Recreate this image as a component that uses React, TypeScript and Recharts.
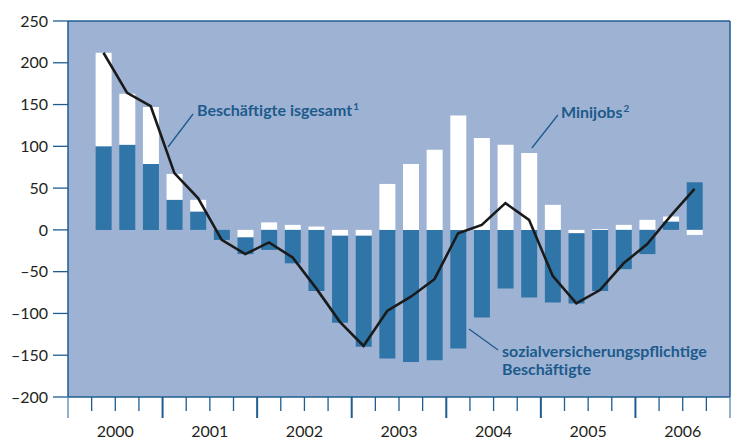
import React from 'react';
import {
  ComposedChart,
  Bar,
  Line,
  XAxis,
  YAxis,
  CartesianGrid,
  ReferenceLine,
  ReferenceDot,
} from 'recharts';

// Quarter labels (bars run from 2000 Q2 to 2006 Q3)
const quarters = [
  '2000Q2', '2000Q3', '2000Q4',
  '2001Q1', '2001Q2', '2001Q3', '2001Q4',
  '2002Q1', '2002Q2', '2002Q3', '2002Q4',
  '2003Q1', '2003Q2', '2003Q3', '2003Q4',
  '2004Q1', '2004Q2', '2004Q3', '2004Q4',
  '2005Q1', '2005Q2', '2005Q3', '2005Q4',
  '2006Q1', '2006Q2', '2006Q3',
];

// sozialversicherungspflichtige Beschäftigte (thousands)
const svBeschaeftigte = [
  100, 102, 79,
  36, 22, -12, -20,
  -24, -40, -73, -104,
  -133, -154, -158, -156,
  -142, -105, -70, -81,
  -87, -84, -73, -47,
  -29, 10, 57,
];

// Minijobs
const minijobs = [
  112, 61, 68,
  31, 14, 0, -9,
  9, 6, 4, -7,
  -7, 55, 79, 96,
  137, 110, 102, 92,
  30, -4, 1, 6,
  12, 6, -6,
];

// Beschäftigte insgesamt
const insgesamt = [
  212, 164, 148,
  68, 38, -12, -29,
  -15, -33, -70, -110,
  -139, -97, -80, -59,
  -4, 6, 32, 12,
  -55, -88, -72, -40,
  -17, 17, 49,
];

const yearLabels = ['2000', '2001', '2002', '2003', '2004', '2005', '2006'];
const yTicks = [-200, -150, -100, -50, 0, 50, 100, 150, 200, 250];

const firstYear = Number(yearLabels[0]);
const slotCount = yearLabels.length * 4;
const xTicks = Array.from({ length: slotCount + 1 }, (_, i) => i);

const data = quarters.map((q, i) => {
  const year = Number(q.slice(0, 4));
  const qu = Number(q.slice(5));
  const sv = svBeschaeftigte[i];
  return {
    q,
    x: (year - firstYear) * 4 + (qu - 1) + 0.5,
    svPos: sv >= 0 ? sv : 0,
    mini: minijobs[i],
    svNeg: sv < 0 ? sv : 0,
    total: insgesamt[i],
  };
});

const BG = '#9eb3d3';
const BLUE = '#3075a8';
const AXIS = '#1f5d91';
const TEXT_BLUE = '#1d5a8c';
const FONT = 'Lato, "Open Sans", sans-serif';

const XTick = (props: any) => {
  const { x, y, payload } = props;
  const v = payload.value as number;
  const isYear = v % 4 === 0;
  const edge = v === 0 || v === slotCount;
  const label = v % 4 === 2 ? yearLabels[(v - 2) / 4] : null;
  return (
    <g>
      <line
        x1={x}
        x2={x}
        y1={y}
        y2={y + (isYear ? 21 : 14)}
        stroke={edge ? '#5a87b3' : AXIS}
        strokeWidth={isYear && !edge ? 2 : 1.3}
      />
      {label && (
        <text
          x={x}
          y={y + 40}
          textAnchor="middle"
          fill="#231f20"
          fontSize={16}
          fontFamily={FONT}
        >
          {label}
        </text>
      )}
    </g>
  );
};

const fmtY = (v: number) => (v < 0 ? `\u2013${Math.abs(v)}` : `${v}`);

const makeLabel = (lines: string[], sup?: string) => (props: any) => {
  const vb = props.viewBox || {};
  const x = vb.x ?? 0;
  const y = vb.y ?? 0;
  return (
    <text
      x={x}
      y={y}
      fill={TEXT_BLUE}
      fontSize={16}
      fontWeight={700}
      fontFamily={FONT}
    >
      {lines.map((l, i) => (
        <tspan key={i} x={x} dy={i === 0 ? 0 : 18}>
          {l}
        </tspan>
      ))}
      {sup && (
        <tspan fontSize={10} dy={-6} dx={1}>
          {sup}
        </tspan>
      )}
    </text>
  );
};

export default function App() {
  return (
    <div style={{ position: 'absolute', left: 0, top: 0 }}>
      <ComposedChart
        width={741}
        height={440}
        data={data}
        margin={{ top: 21, right: 0, bottom: 0, left: 0 }}
        stackOffset="sign"
        style={{ fontFamily: FONT }}
      >
        <CartesianGrid horizontal={false} vertical={false} fill={BG} fillOpacity={1} />
        <XAxis
          type="number"
          dataKey="x"
          domain={[0, slotCount]}
          ticks={xTicks}
          interval={0}
          allowDataOverflow
          tickLine={false}
          tickSize={0}
          tickMargin={0}
          height={43}
          axisLine={{ stroke: AXIS, strokeWidth: 1.5 }}
          tick={<XTick />}
        />
        <YAxis
          domain={[-200, 250]}
          ticks={yTicks}
          interval={0}
          allowDataOverflow
          width={68}
          tickSize={15}
          tickMargin={5}
          tickFormatter={fmtY}
          axisLine={{ stroke: AXIS, strokeWidth: 1.5 }}
          tickLine={{ stroke: AXIS, strokeWidth: 1.3 }}
          tick={{ fill: '#231f20', fontSize: 16, fontFamily: FONT }}
        />
        <YAxis
          yAxisId="r"
          orientation="right"
          domain={[-200, 250]}
          ticks={yTicks}
          interval={0}
          allowDataOverflow
          width={11}
          tickSize={11}
          tick={false}
          axisLine={{ stroke: AXIS, strokeWidth: 1.5 }}
          tickLine={{ stroke: AXIS, strokeWidth: 1.3 }}
        />
        <ReferenceLine y={250} stroke={AXIS} strokeWidth={1.5} />
        <Bar dataKey="svPos" stackId="a" fill={BLUE} barSize={16} isAnimationActive={false} />
        <Bar dataKey="mini" stackId="a" fill="#ffffff" barSize={16} isAnimationActive={false} />
        <Bar dataKey="svNeg" stackId="a" fill={BLUE} barSize={16} isAnimationActive={false} />
        <Line
          dataKey="total"
          type="linear"
          stroke="#1a1a1a"
          strokeWidth={2.6}
          dot={false}
          isAnimationActive={false}
        />
        <ReferenceLine
          segment={[{ x: 5.29, y: 138.7 }, { x: 4.23, y: 99.2 }]}
          stroke={TEXT_BLUE}
          strokeWidth={1.3}
        />
        <ReferenceLine
          segment={[{ x: 20.72, y: 137.5 }, { x: 19.62, y: 98.0 }]}
          stroke={TEXT_BLUE}
          strokeWidth={1.3}
        />
        <ReferenceLine
          segment={[{ x: 16.96, y: -118.6 }, { x: 18.19, y: -143.7 }]}
          stroke={TEXT_BLUE}
          strokeWidth={1.3}
        />
        <ReferenceDot
          x={5.46}
          y={136.3}
          r={0}
          fill="none"
          stroke="none"
          label={makeLabel(['Beschäftigte isgesamt'], '1')}
        />
        <ReferenceDot
          x={20.85}
          y={133.9}
          r={0}
          fill="none"
          stroke="none"
          label={makeLabel(['Minijobs'], '2')}
        />
        <ReferenceDot
          x={18.36}
          y={-152.1}
          r={0}
          fill="none"
          stroke="none"
          label={makeLabel(['sozialversicherungspflichtige', 'Beschäftigte'])}
        />
      </ComposedChart>
    </div>
  );
}
